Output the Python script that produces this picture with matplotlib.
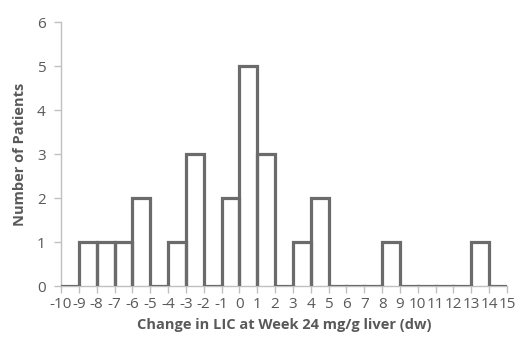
import matplotlib.pyplot as plt
import numpy as np

# histogram bins: left edges from -10 to 14, width 1
bin_left = np.arange(-10, 15)
counts = [0, 1, 1, 1, 2, 0, 1, 3, 0, 2, 5, 3, 0, 1, 2, 0, 0, 0, 1, 0, 0, 0, 0, 1, 0]
x_ticks = np.arange(-10, 16)
y_ticks = np.arange(0, 7)

plt.rcParams['font.family'] = ['Open Sans', 'DejaVu Sans']

fig = plt.figure(figsize=(5.16, 3.46), dpi=100)
ax = fig.add_axes([61 / 516, 60 / 346, 446 / 516, 264 / 346])

line_col = '#6b6b6b'
axis_col = '#c0c0c0'
text_col = '#595959'

# each bar drawn as an open outline (left, top, right)
for left, h in zip(bin_left, counts):
    ax.plot([left, left, left + 1, left + 1], [0, h, h, 0],
            color=line_col, lw=2.3, solid_joinstyle='miter', zorder=3)

ax.set_xlim(-10, 15)
ax.set_ylim(0, 6)
ax.set_xticks(x_ticks)
ax.set_xticklabels([str(t) for t in x_ticks])
ax.set_yticks(y_ticks)

for s in ['top', 'right']:
    ax.spines[s].set_visible(False)
for s in ['left', 'bottom']:
    ax.spines[s].set_color(axis_col)
    ax.spines[s].set_linewidth(1.0)
ax.tick_params(axis='both', colors=axis_col, labelcolor=text_col,
               labelsize=11, length=5, width=1, direction='out')
ax.tick_params(axis='x', pad=3)
ax.tick_params(axis='y', pad=6)

ax.set_xlabel('Change in LIC at Week 24 mg/g liver (dw)', fontsize=10.5,
              fontweight='bold', color=text_col, labelpad=4)
ax.set_ylabel('Number of Patients', fontsize=10.5, fontweight='bold',
              color=text_col, labelpad=7)

fig.savefig('out.png', dpi=100)
